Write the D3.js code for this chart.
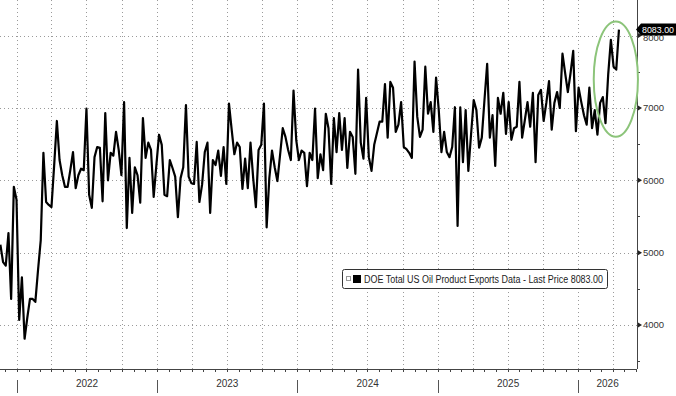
<!DOCTYPE html>
<html>
<head>
<meta charset="utf-8">
<script src="https://cdn.jsdelivr.net/npm/d3@7"></script>
<style>
  body { margin: 0; background: #fff; }
  svg { display: block; font-family: "Liberation Sans", Arial, sans-serif; }
</style>
</head>
<body>
<div id="vis"></div>
<script>
// first weekly reading on the chart, one value per week after that
var firstWeek = '2021-11-19';

// DOE total US oil product exports, thousand barrels per day (weekly)
var exportValues = [
  5110, 4870, 4820, 5270, 4360, 5910, 5730, 4070, 4660, 3810, 4100, 4360, 4360, 4320,
  4760, 5170, 6380, 5700, 5660, 5630, 6210, 6820, 6280, 6070, 5910, 5910, 6140, 6390,
  5890, 6070, 6160, 6140, 6990, 5800, 5620, 6320, 6460, 6450, 5710, 6930, 6000, 6380,
  6340, 6670, 6420, 6070, 7080, 5340, 6310, 5550, 6180, 6070, 5690, 6860, 6310, 6520,
  6420, 5770, 6210, 6630, 6490,
  5800, 5780, 6280, 6170, 6050, 5490, 6030, 6180, 7040, 6050, 5960, 5950, 6530, 5700,
  5940, 6390, 6520, 5550, 6280, 6210, 6410, 6060, 6460, 5950, 7060, 6700, 6360, 6520,
  6460, 5880, 6300, 5890,
  6520, 6030, 5630, 6420, 6490, 7060, 5350, 6030, 6410, 6180, 5990, 6350, 6720, 6600,
  6420, 6280, 7240, 6560, 6280, 6410, 6380, 5920, 6380, 6280, 6990, 6030, 6360, 6140,
  6920, 6720, 5950,
  6860, 6390, 6930, 6420, 6860, 6170, 6670, 6600, 6090, 7530, 6520, 6300, 7140, 6320,
  6130, 6490, 6650, 6810, 6810, 7330, 6590, 7360, 7280, 6670, 6770, 7080, 6460, 6430,
  6380, 6310, 7640, 6880,
  6600, 6700, 7570, 6920, 7080, 6670, 7420, 6970, 6390, 6670, 6390, 6320, 6460, 7010,
  5370, 7010, 6250, 6970, 6130, 6630, 7110, 6970, 6450, 6590, 7110, 7610, 6590, 6900,
  6200, 7140, 6920,
  7210, 6640, 7080, 6560, 6720, 6740, 7360, 6590, 6830, 7080, 6740, 7210, 6250, 7180,
  7250, 6820, 7070, 7370, 6700, 7070, 7220, 7000, 7750, 7480, 7220, 7480, 7790, 6680,
  7280, 7080, 6900, 6770,
  7280, 6720, 6970, 6630, 7070, 7150, 6790, 7460, 7940, 7570, 7530, 8083
];

var yTicks = [4000, 5000, 6000, 7000, 8000];
var yMinorTicks = [3500, 4500, 5500, 6500, 7500];
var yearLabels = ['2022', '2023', '2024', '2025', '2026'];
var seriesName = 'DOE Total US Oil Product Exports Data';
var lastPrice = 8083.00;

// how many of the latest weeks the green circle wraps
var highlightWeeks = 10;

var width = 676;
var height = 396;
var plotRight = 637;
var plotBottom = 369;

var parseDay = d3.utcParse('%Y-%m-%d');
var start = parseDay(firstWeek);

var points = exportValues.map(function (v, i) {
  return { date: d3.utcWeek.offset(start, i), value: v };
});

var x = d3.scaleUtc()
  .domain([parseDay('2021-11-18'), parseDay('2026-06-03')])
  .range([0, plotRight]);

var y = d3.scaleLinear()
  .domain([3392, 8492])
  .range([plotBottom, 0]);

var svg = d3.select('#vis')
  .append('svg')
  .attr('width', width)
  .attr('height', height);

// dotted grid: quarters across, thousands up
var grid = svg.append('g')
  .attr('stroke', '#9a9a9a')
  .attr('stroke-width', 1)
  .attr('stroke-dasharray', '1,3');

grid.selectAll('.vgrid')
  .data(d3.utcMonth.every(3).range(x.domain()[0], x.domain()[1]))
  .enter().append('line')
  .attr('x1', function (d) { return Math.round(x(d)) + 0.5; })
  .attr('x2', function (d) { return Math.round(x(d)) + 0.5; })
  .attr('y1', 0)
  .attr('y2', plotBottom);

grid.selectAll('.hgrid')
  .data(yTicks)
  .enter().append('line')
  .attr('x1', 0)
  .attr('x2', plotRight)
  .attr('y1', function (d) { return Math.round(y(d)) + 0.5; })
  .attr('y2', function (d) { return Math.round(y(d)) + 0.5; });

// the series
var line = d3.line()
  .x(function (d) { return x(d.date); })
  .y(function (d) { return y(d.value); });

svg.append('path')
  .datum(points)
  .attr('fill', 'none')
  .attr('stroke', '#000')
  .attr('stroke-width', 2.2)
  .attr('stroke-linejoin', 'round')
  .attr('d', line);

// bottom axis with monthly ticks and year separators
svg.append('line')
  .attr('x1', 0).attr('x2', plotRight)
  .attr('y1', plotBottom + 0.5).attr('y2', plotBottom + 0.5)
  .attr('stroke', '#444');

svg.selectAll('.mtick')
  .data(d3.utcMonth.range(x.domain()[0], x.domain()[1]))
  .enter().append('line')
  .attr('x1', function (d) { return Math.round(x(d)) + 0.5; })
  .attr('x2', function (d) { return Math.round(x(d)) + 0.5; })
  .attr('y1', plotBottom)
  .attr('y2', plotBottom + 3)
  .attr('stroke', '#444');

var years = d3.utcYear.range(x.domain()[0], x.domain()[1]);

svg.selectAll('.ysep')
  .data(years)
  .enter().append('line')
  .attr('x1', function (d) { return Math.round(x(d)) + 0.5; })
  .attr('x2', function (d) { return Math.round(x(d)) + 0.5; })
  .attr('y1', plotBottom + 11)
  .attr('y2', plotBottom + 24)
  .attr('stroke', '#555');

svg.selectAll('.ylabel')
  .data(years)
  .enter().append('text')
  .attr('x', function (d) {
    var a = x(d);
    var b = Math.min(x(d3.utcYear.offset(d, 1)), plotRight);
    return (a + b) / 2;
  })
  .attr('y', plotBottom + 18)
  .attr('text-anchor', 'middle')
  .attr('font-size', '10px')
  .attr('fill', '#333')
  .text(function (d, i) { return yearLabels[i]; });

// right axis
svg.append('line')
  .attr('x1', plotRight + 0.5).attr('x2', plotRight + 0.5)
  .attr('y1', 0).attr('y2', plotBottom)
  .attr('stroke', '#444');

svg.selectAll('.minor')
  .data(yMinorTicks)
  .enter().append('line')
  .attr('x1', plotRight).attr('x2', plotRight + 3)
  .attr('y1', function (d) { return Math.round(y(d)) + 0.5; })
  .attr('y2', function (d) { return Math.round(y(d)) + 0.5; })
  .attr('stroke', '#444');

svg.selectAll('.major')
  .data(yTicks)
  .enter().append('path')
  .attr('d', function (d) {
    var ty = y(d);
    return 'M' + (plotRight + 1) + ',' + (ty - 2.5) + 'L' + (plotRight + 5) + ',' + ty +
      'L' + (plotRight + 1) + ',' + (ty + 2.5) + 'Z';
  })
  .attr('fill', '#222');

// the 8000 label sits mostly under the price tag, as in the original
svg.selectAll('.ytext')
  .data(yTicks)
  .enter().append('text')
  .attr('x', plotRight + 6)
  .attr('y', function (d) { return y(d) + (d === 8000 ? 2 : 0); })
  .attr('dy', '0.35em')
  .attr('font-size', '9.5px')
  .attr('fill', '#333')
  .text(function (d) { return d; });

// last price tag
var lastY = y(lastPrice);
svg.append('path')
  .attr('d', 'M' + (plotRight - 1) + ',' + lastY +
    'L' + (plotRight + 4) + ',' + (lastY - 6) +
    'L' + width + ',' + (lastY - 6) +
    'L' + width + ',' + (lastY + 6) +
    'L' + (plotRight + 4) + ',' + (lastY + 6) + 'Z')
  .attr('fill', '#000');

svg.append('text')
  .attr('x', plotRight + 5)
  .attr('y', lastY)
  .attr('dy', '0.35em')
  .attr('font-size', '9.5px')
  .attr('fill', '#fff')
  .attr('textLength', 32)
  .attr('lengthAdjust', 'spacingAndGlyphs')
  .text(lastPrice.toFixed(2));

// green circle round the latest weeks
var recent = points.slice(-highlightWeeks);
var rx0 = x(recent[0].date), rx1 = x(recent[recent.length - 1].date);
var ry0 = y(d3.max(recent, function (d) { return d.value; }));
var ry1 = y(d3.min(recent, function (d) { return d.value; }));

svg.append('ellipse')
  .attr('cx', (rx0 + rx1) / 2 + 9)
  .attr('cy', (ry0 + ry1) / 2 - 3)
  .attr('rx', (rx1 - rx0) / 2 + 10)
  .attr('ry', (ry1 - ry0) / 2 + 5)
  .attr('fill', 'none')
  .attr('stroke', '#8cc47a')
  .attr('stroke-width', 2);

// legend
var legend = svg.append('g').attr('transform', 'translate(342,269)');

legend.append('rect')
  .attr('x', 0.5).attr('y', 0.5)
  .attr('width', 265).attr('height', 19)
  .attr('rx', 2)
  .attr('fill', '#fff')
  .attr('stroke', '#333');

legend.append('rect')
  .attr('x', 4.5).attr('y', 7.5)
  .attr('width', 4).attr('height', 4)
  .attr('fill', 'none')
  .attr('stroke', '#999');

legend.append('rect')
  .attr('x', 11).attr('y', 6)
  .attr('width', 8).attr('height', 8)
  .attr('fill', '#000');

legend.append('text')
  .attr('x', 22)
  .attr('y', 13.5)
  .attr('font-size', '10px')
  .attr('fill', '#222')
  .attr('textLength', 239)
  .attr('lengthAdjust', 'spacingAndGlyphs')
  .text(seriesName + ' - Last Price ' + lastPrice.toFixed(2));
</script>
</body>
</html>
